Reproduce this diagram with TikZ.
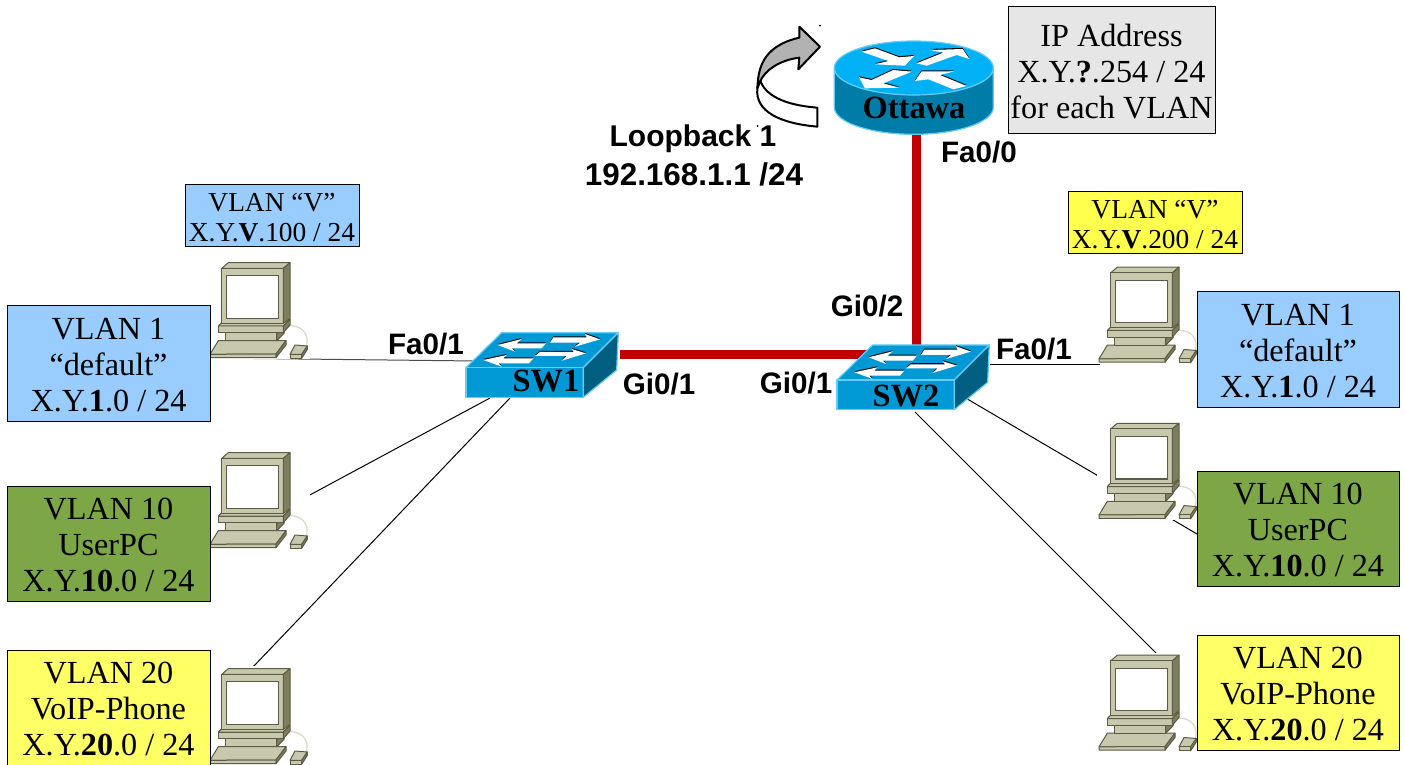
\documentclass[tikz,border=0pt]{standalone}
\usepackage{fontspec}
\setmainfont{Liberation Serif}
\newfontfamily\lblfont{Liberation Sans}
\newcommand{\fl}{\rule{0pt}{12pt}}
\newcommand{\fs}{\rule{0pt}{10.6pt}}
\definecolor{vblue}{HTML}{99CCFF}
\definecolor{vgreen}{HTML}{7DA647}
\definecolor{vyellow}{HTML}{FFFF66}
\definecolor{vyellowb}{HTML}{FFFF4D}
\definecolor{vgrey}{HTML}{E6E6E6}
\definecolor{linkred}{HTML}{C00000}
\definecolor{pcbody}{HTML}{C8C8AE}
\definecolor{pcdark}{HTML}{7E7E5E}
\definecolor{pcline}{HTML}{5C5C44}
\definecolor{swtop}{HTML}{0099D6}
\definecolor{swside}{HTML}{005E80}
\definecolor{swedge}{HTML}{66CCF5}
\definecolor{rttop}{HTML}{00B2F5}
\definecolor{rtside}{HTML}{007CA8}
\tikzset{
  x=0.5pt,y=-0.5pt,
  vbox/.style={draw=black,line width=0.5pt,align=center,inner sep=0pt,anchor=center,
    font=\fontsize{16.1}{18}\selectfont},
  smallbox/.style={draw=black,line width=0.5pt,align=center,inner sep=0pt,anchor=center,
    font=\fontsize{13.7}{15}\selectfont},
  iflabel/.style={font=\lblfont\bfseries\fontsize{14.8}{16}\selectfont,inner sep=0pt},
  devlabel/.style={font=\bfseries\fontsize{16.2}{18}\selectfont,inner sep=0pt},
  thinlink/.style={draw=black,line width=0.5pt},
  redlink/.style={draw=linkred,line width=4.5pt},
  pcfill/.style={fill=pcbody,draw=pcline,line width=0.5pt,line join=round},
  pcside/.style={fill=pcdark,draw=pcline,line width=0.5pt,line join=round},
  pics/pcunit/.style={code={
    \begin{scope}[scale=1/3]
      \fill[white] (25,30) rectangle (330,328);
      \draw[draw=pcbody!70!white,line width=0.6pt] (262,228) .. controls (300,222) and (332,250) .. (318,290);
      % keyboard
      \draw[pcfill] (55,272) -- (258,272) -- (228,312) -- (30,313) -- cycle;
      \draw[pcfill] (30,313) -- (228,312) -- (228,323) -- (30,323) -- cycle;
      \draw[pcside] (228,312) -- (258,272) -- (258,285) -- (228,323) -- cycle;
      % neck and base
      \draw[pcfill] (75,248) rectangle (230,272);
      \draw[pcside] (230,248) -- (252,225) -- (252,250) -- (230,272) -- cycle;
      \draw[pcfill] (55,228) -- (250,228) -- (250,248) -- (55,248) -- cycle;
      \draw[pcfill] (75,208) -- (270,208) -- (250,228) -- (55,228) -- cycle;
      \draw[pcside] (250,228) -- (270,208) -- (270,225) -- (250,248) -- cycle;
      % monitor
      \draw[pcfill] (65,55) -- (85,38) -- (270,38) -- (250,55) -- cycle;
      \draw[pcfill] (65,55) rectangle (250,220);
      \draw[pcside] (250,55) -- (270,38) -- (270,205) -- (250,220) -- cycle;
      \draw[fill=white,draw=pcline,line width=0.6pt] (80,77) rectangle (235,205);
      % mouse
      \draw[pcfill] (285,285) -- (322,288) -- (305,313) -- (270,313) -- cycle;
      \draw[pcfill] (270,313) rectangle (305,325);
      \draw[pcside] (305,313) -- (322,288) -- (322,298) -- (305,325) -- cycle;
    \end{scope}
  }},
  pics/swunit/.style={code={
    \begin{scope}[scale=1/3]
      \draw[fill=swtop,draw=swedge,line width=0.6pt,line join=round] (155,38) -- (505,38) -- (400,143) -- (48,143) -- cycle;
      \draw[fill=swtop,draw=swedge,line width=0.6pt,line join=round] (48,143) rectangle (400,232);
      \draw[fill=swside,draw=swedge,line width=0.6pt,line join=round] (400,143) -- (505,38) -- (500,150) -- (400,232) -- cycle;
      \foreach \dy/\col in {1.6/black,0/white}{
        \begin{scope}[yshift=\dy*1pt]
        \fill[\col] (143,75) -- (215,57) -- (200,70) -- (288,70) -- (275,85) -- (185,85) -- (195,95) -- cycle;
        \fill[\col] (450,58) -- (405,42) -- (410,52) -- (310,52) -- (300,68) -- (390,68) -- (375,80) -- cycle;
        \fill[\col] (408,100) -- (365,87) -- (372,96) -- (270,96) -- (255,108) -- (350,108) -- (335,122) -- cycle;
        \fill[\col] (100,120) -- (170,105) -- (160,115) -- (250,115) -- (237,130) -- (145,130) -- (155,140) -- cycle;
        \end{scope}
      }
    \end{scope}
  }}
}
\begin{document}
\begin{tikzpicture}
\useasboundingbox (0,0) rectangle (1405,765);
% connector ends
\coordinate (a1) at (210,358);   \coordinate (b1) at (476,361);
\coordinate (a2) at (308,496);   \coordinate (b2) at (490,398);
\coordinate (a3) at (252,668);   \coordinate (b3) at (510,398);
\coordinate (c1) at (1100,364);  \coordinate (d1) at (990,364);
\coordinate (c2) at (1197,534);  \coordinate (d2) at (961.7,395.7);
\coordinate (c3) at (1158,655);  \coordinate (d3) at (915,412);
\coordinate (r1) at (620,354);   \coordinate (r2) at (872,354);
\coordinate (r3) at (916,132);   \coordinate (r4) at (916,347);
% links
\draw[thinlink,draw=black!70] (a1) -- (b1);
\draw[thinlink] (a2) -- (b2);
\draw[thinlink] (a3) -- (b3);
\draw[thinlink] (c1) -- (d1);
\draw[thinlink] (c2) -- (d2);
\draw[thinlink] (c3) -- (d3);
\draw[redlink] (r1) -- (r2);
\draw[redlink] (r3) -- (r4);
% PCs
\pic at (200,250) {pcunit};
\pic at (200,440) {pcunit};
\pic at (200,656) {pcunit};
\pic at (1089,254.5) {pcunit};
\pic at (1089,410.6) {pcunit};
\pic at (1089,642.5) {pcunit};
% switches
\pic at (450,320) {swunit};
\pic at (821,332.3) {swunit};
\node[devlabel] (sw1) at (546,381) {SW1};
\node[devlabel] (sw2) at (906,396) {SW2};
% router
\begin{scope}[shift={(740,0)},scale=1/3]
  \draw[fill=rtside,draw=swedge,line width=0.6pt] (283,205) -- (283,322) arc[start angle=180,end angle=0,x radius=238.5,y radius=81] -- (760,205) -- cycle;
  \draw[fill=rttop,draw=swedge,line width=0.6pt] (521.5,204) ellipse[x radius=238.5,y radius=81];
  \foreach \dy/\col in {1.6/black,0/white}{
    \begin{scope}[yshift=\dy*1pt]
    \fill[\col] (365,155) -- (405,145) -- (478,172) -- (522,168) -- (495,197) -- (405,193) -- (445,183) -- cycle;
    \fill[\col] (530,190) -- (610,158) -- (570,150) -- (668,147) -- (688,177) -- (650,165) -- (560,197) -- cycle;
    \fill[\col] (395,240) -- (460,210) -- (515,215) -- (430,250) -- (478,263) -- (375,265) -- (357,232) -- cycle;
    \fill[\col] (680,258) -- (640,268) -- (565,238) -- (525,243) -- (545,214) -- (643,214) -- (600,225) -- cycle;
    \end{scope}
  }
\end{scope}
\node[devlabel] (ottawa) at (914,108) {Ottawa};
% loopback arrow
\begin{scope}[shift={(740,15)},scale=1/3]
  \draw[fill=white,draw=black,line width=1pt,line join=round]
    (60,195) .. controls (75,240) and (130,270) .. (232,278) -- (232,335)
    .. controls (120,325) and (45,290) .. (52,220) -- cycle;
  \draw[fill=black!30,draw=black,line width=1pt,line join=round]
    (52,220) .. controls (55,170) and (60,95) .. (178,68) -- (178,35) -- (240,95) -- (175,163) -- (178,128)
    .. controls (120,135) and (75,165) .. (60,200) -- cycle;
\end{scope}
\fill[black] (820,25.7) circle (0.5pt);
\fill[black] (757.7,126) circle (0.5pt);
% VLAN boxes
\node[vbox,fill=vblue,minimum width=101.5pt,minimum height=57.5pt] (l1) at (108.5,363.5) {\fl VLAN 1\\“default”\\X.Y.\textbf{1}.0 / 24};
\node[vbox,fill=vgreen,minimum width=101.5pt,minimum height=57.5pt] (l2) at (108.5,543.5) {\fl VLAN 10\\UserPC\\X.Y.\textbf{10}.0 / 24};
\node[vbox,fill=vyellow,minimum width=101.5pt,minimum height=57.5pt] (l3) at (108.5,707.5) {\fl VLAN 20\\VoIP-Phone\\X.Y.\textbf{20}.0 / 24};
\node[vbox,fill=vblue,minimum width=101pt,minimum height=57.5pt] (r1box) at (1298,349.5) {\fl VLAN 1\\“default”\\X.Y.\textbf{1}.0 / 24};
\node[vbox,fill=vgreen,minimum width=101pt,minimum height=57.5pt] (r2box) at (1298,528.5) {\fl VLAN 10\\UserPC\\X.Y.\textbf{10}.0 / 24};
\node[vbox,fill=vyellow,minimum width=101pt,minimum height=57.5pt] (r3box) at (1298,692.5) {\fl VLAN 20\\VoIP-Phone\\X.Y.\textbf{20}.0 / 24};
\node[smallbox,fill=vblue,minimum width=87pt,minimum height=31pt] (sl) at (272,216) {\fs VLAN “V”\\X.Y.\textbf{V}.100 / 24};
\node[smallbox,fill=vyellowb,minimum width=87pt,minimum height=31pt] (sr) at (1155,223) {\fs VLAN “V”\\X.Y.\textbf{V}.200 / 24};
\node[vbox,fill=vgrey,minimum width=103.5pt,minimum height=63.5pt] (ipbox) at (1111.5,70.5) {\fl IP Address\\X.Y.\textbf{?}.254 / 24\\for each VLAN};
% interface labels
\node[iflabel] (lf1) at (426,344) {Fa0/1};
\node[iflabel] (lg1) at (659,384) {Gi0/1};
\node[iflabel] (lg2) at (796,383) {Gi0/1};
\node[iflabel] (lg3) at (867,306) {Gi0/2};
\node[iflabel] (lf2) at (1034,349) {Fa0/1};
\node[iflabel] (lf0) at (979,152) {Fa0/0};
\node[iflabel,font=\lblfont\bfseries\fontsize{15}{16}\selectfont] (ll1) at (693,138.5) {Loopback 1};
\node[iflabel,font=\lblfont\bfseries\fontsize{15.7}{16}\selectfont] (ll2) at (694,174) {192.168.1.1 /24};
\end{tikzpicture}
\end{document}
